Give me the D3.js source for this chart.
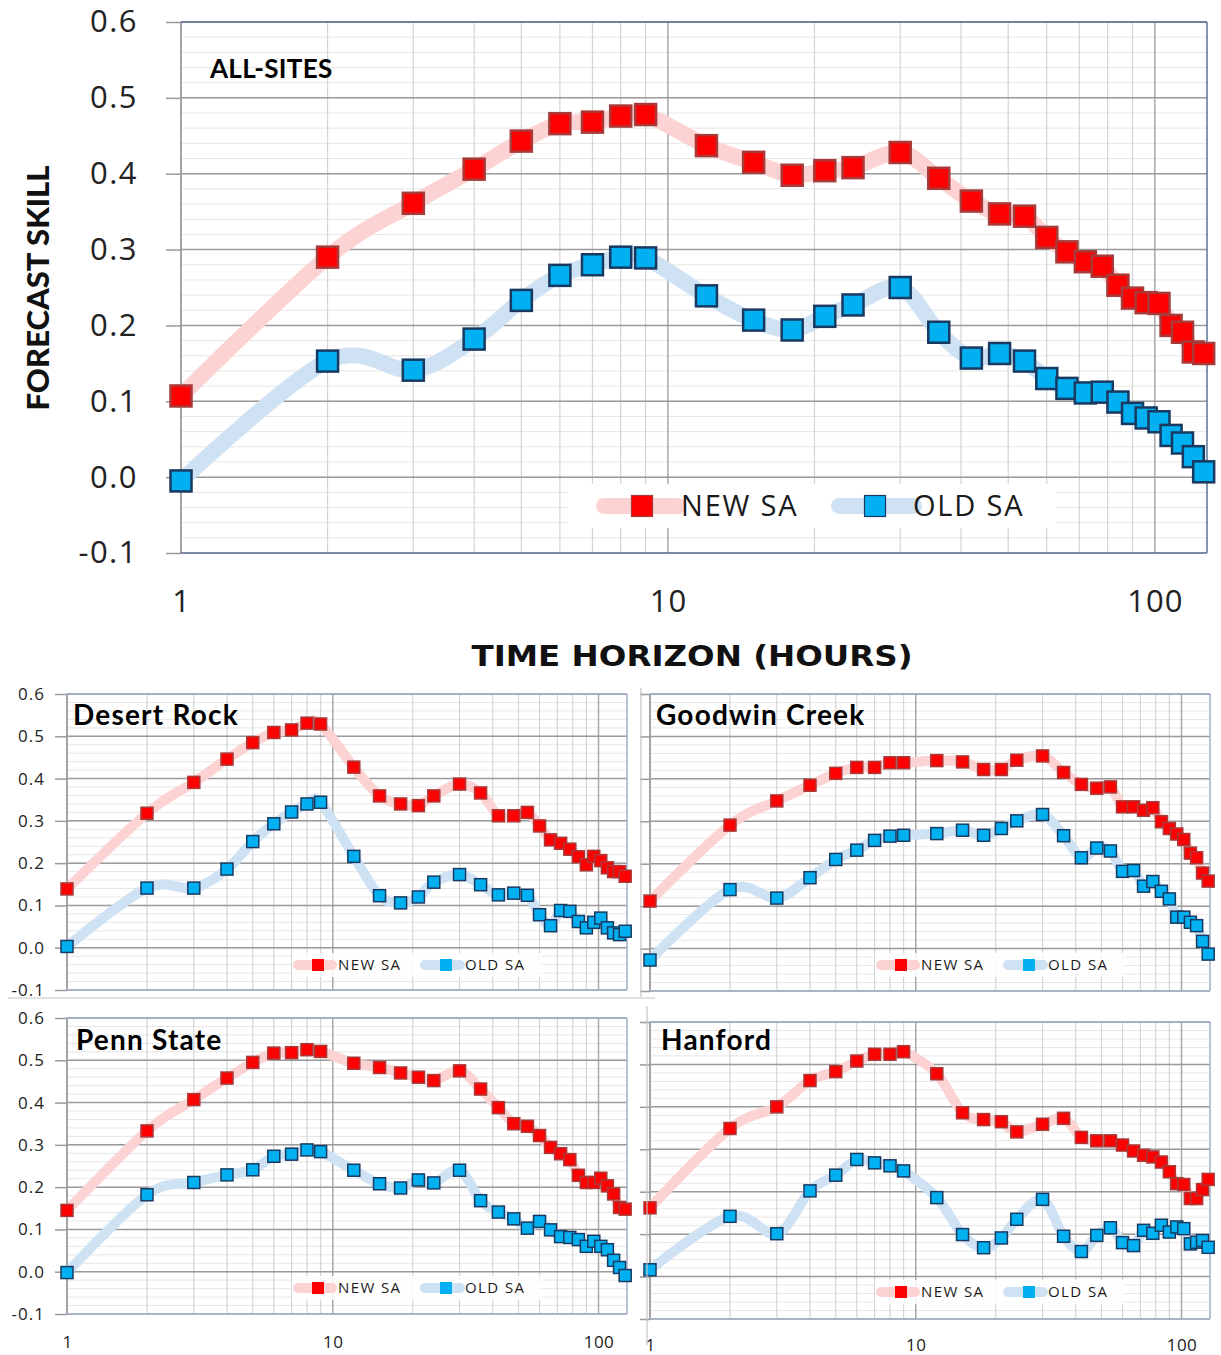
<!DOCTYPE html>
<html>
<head>
<meta charset="utf-8">
<script src="https://cdn.jsdelivr.net/npm/d3@7"></script>
<style>
  body { margin: 0; background: #fff; }
  svg { display: block; }
</style>
</head>
<body>
<div id="chart"></div>
<script>
// ===== FORECAST SKILL vs TIME HORIZON =====

// x values (hours ahead)
const hours = [1, 2, 3, 4, 5, 6, 7, 8, 9, 12, 15, 18, 21, 24, 30, 36, 42, 48, 54, 60,
  66, 72, 78, 84, 90, 96, 102, 108, 114, 120, 126];

const yTickValues = [-0.1, 0.0, 0.1, 0.2, 0.3, 0.4, 0.5, 0.6];
const xTickLabels = [1, 10, 100];
const seriesNames = ['NEW SA', 'OLD SA'];

// ALL-SITES
const allSitesNew = [0.107, 0.290, 0.361, 0.406, 0.443, 0.466, 0.468, 0.476, 0.478,
  0.437, 0.415, 0.398, 0.404, 0.408, 0.428, 0.394, 0.364, 0.347, 0.344, 0.316,
  0.297, 0.284, 0.278, 0.253, 0.236, 0.230, 0.229, 0.200, 0.191, 0.165, 0.163];
const allSitesOld = [-0.005, 0.153, 0.141, 0.182, 0.233, 0.266, 0.280, 0.290, 0.289,
  0.239, 0.207, 0.194, 0.212, 0.227, 0.250, 0.191, 0.157, 0.163, 0.153, 0.130,
  0.117, 0.111, 0.112, 0.099, 0.084, 0.078, 0.073, 0.055, 0.045, 0.027, 0.007];

// Desert Rock
const desertNew = [0.139, 0.318, 0.391, 0.446, 0.485, 0.509, 0.515, 0.531, 0.529,
  0.427, 0.359, 0.340, 0.336, 0.359, 0.387, 0.366, 0.312, 0.312, 0.320, 0.288,
  0.255, 0.247, 0.233, 0.215, 0.196, 0.216, 0.206, 0.189, 0.180, 0.180, 0.169];
const desertOld = [0.003, 0.141, 0.141, 0.186, 0.251, 0.293, 0.321, 0.340, 0.344,
  0.216, 0.123, 0.106, 0.120, 0.155, 0.173, 0.149, 0.125, 0.129, 0.124, 0.078,
  0.052, 0.088, 0.086, 0.062, 0.047, 0.060, 0.070, 0.047, 0.035, 0.031, 0.039];

// Goodwin Creek
const goodwinNew = [0.112, 0.291, 0.348, 0.385, 0.413, 0.427, 0.427, 0.438, 0.438,
  0.443, 0.440, 0.422, 0.422, 0.444, 0.454, 0.415, 0.387, 0.378, 0.381, 0.334,
  0.334, 0.326, 0.332, 0.299, 0.283, 0.270, 0.257, 0.225, 0.214, 0.178, 0.159];
const goodwinOld = [-0.027, 0.139, 0.119, 0.167, 0.210, 0.232, 0.255, 0.265, 0.267,
  0.271, 0.279, 0.267, 0.283, 0.301, 0.316, 0.266, 0.214, 0.237, 0.230, 0.182,
  0.184, 0.147, 0.158, 0.135, 0.117, 0.074, 0.074, 0.062, 0.054, 0.017, -0.013];

// Penn State
const pennNew = [0.145, 0.333, 0.407, 0.458, 0.495, 0.517, 0.518, 0.525, 0.521,
  0.493, 0.483, 0.470, 0.460, 0.452, 0.475, 0.432, 0.388, 0.350, 0.344, 0.322,
  0.294, 0.279, 0.265, 0.228, 0.211, 0.211, 0.221, 0.203, 0.184, 0.152, 0.148];
const pennOld = [-0.002, 0.182, 0.211, 0.229, 0.241, 0.273, 0.278, 0.288, 0.284,
  0.240, 0.208, 0.198, 0.217, 0.210, 0.240, 0.168, 0.141, 0.125, 0.103, 0.119,
  0.099, 0.083, 0.081, 0.076, 0.060, 0.072, 0.060, 0.052, 0.027, 0.010, -0.009];

// Hanford
const hanfordNew = [0.162, 0.349, 0.400, 0.462, 0.483, 0.508, 0.524, 0.524, 0.530,
  0.478, 0.386, 0.370, 0.365, 0.341, 0.359, 0.373, 0.328, 0.320, 0.320, 0.310,
  0.296, 0.286, 0.282, 0.270, 0.247, 0.219, 0.217, 0.184, 0.184, 0.205, 0.229];
const hanfordOld = [0.016, 0.142, 0.101, 0.202, 0.239, 0.276, 0.268, 0.261, 0.249,
  0.186, 0.099, 0.068, 0.091, 0.135, 0.182, 0.095, 0.059, 0.097, 0.115, 0.080,
  0.073, 0.109, 0.102, 0.121, 0.105, 0.117, 0.113, 0.077, 0.081, 0.085, 0.069];

const COLORS = {
  newFill: '#ff0000', newStroke: '#a83a3a', newLine: '#fcd2d2',
  oldFill: '#00b0f0', oldStroke: '#183a62', oldLine: '#cfe2f4'
};
const LABEL_FONT = "'Open Sans', 'Noto Sans', sans-serif";
const TITLE_FONT = "Lato, 'Open Sans', sans-serif";

const W = 1221, H = 1355;
const svg = d3.select('#chart').append('svg').attr('width', W).attr('height', H);
const defs = svg.append('defs');

const fmt = d => d.toFixed(1);   // keep plain hyphen for -0.1

const panels = [
  { key: 'all', title: 'ALL-SITES', newVals: allSitesNew, oldVals: allSitesOld,
    left: 181, right: 1207, top: 22, bottom: 553, big: true,
    titleX: 210, titleY: 78, titleSize: 26, titleSpacing: 0.3,
    yLabels: true, xLabels: true, tickSize: 15, yPad: 28, yFont: 31, xFont: 31, xPad: 37,
    lineW: 16, sq: 21, sqStroke: 2.5,
    legend: { x: 567, y: 484, w: 490, h: 44, cy: 506, font: 29, spacing: 1.8,
      items: [{ l1: 604, l2: 678, sq: 642, tx: 681 }, { l1: 839, l2: 914, sq: 875, tx: 913 }] } },
  { key: 'desert', title: 'Desert Rock', newVals: desertNew, oldVals: desertOld,
    left: 67, right: 627, top: 694, bottom: 990,
    titleX: 73, titleY: 725, titleSize: 28, titleSpacing: 1.2,
    yLabels: true, xLabels: false, tickSize: 12, yPad: 10, yFont: 17,
    lineW: 10, sq: 12, sqStroke: 1.5, legendCy: 965 },
  { key: 'goodwin', title: 'Goodwin Creek', newVals: goodwinNew, oldVals: goodwinOld,
    left: 650, right: 1210, top: 694, bottom: 991,
    titleX: 656, titleY: 725, titleSize: 28, titleSpacing: 1.2,
    yLabels: false, xLabels: false, tickSize: 10,
    lineW: 10, sq: 12, sqStroke: 1.5, legendCy: 965 },
  { key: 'penn', title: 'Penn State', newVals: pennNew, oldVals: pennOld,
    left: 67, right: 627, top: 1018, bottom: 1314,
    titleX: 76, titleY: 1050, titleSize: 28, titleSpacing: 1.2,
    yLabels: true, xLabels: true, tickSize: 12, yPad: 10, yFont: 17, xFont: 17, xPad: 22,
    lineW: 10, sq: 12, sqStroke: 1.5, legendCy: 1288 },
  { key: 'hanford', title: 'Hanford', newVals: hanfordNew, oldVals: hanfordOld,
    left: 650, right: 1210, top: 1022, bottom: 1319,
    titleX: 661, titleY: 1050, titleSize: 28, titleSpacing: 1.2,
    yLabels: false, xLabels: true, tickSize: 10, xFont: 17, xPad: 20,
    lineW: 10, sq: 12, sqStroke: 1.5, legendCy: 1292 }
];

function drawPanel(p) {
  const x = d3.scaleLog().domain([1, 128]).range([p.left, p.right]);
  const y = d3.scaleLinear().domain([-0.1, 0.6]).range([p.bottom, p.top]);
  const g = svg.append('g').attr('class', 'panel-' + p.key);

  defs.append('clipPath').attr('id', 'clip-' + p.key)
    .append('rect')
    .attr('x', p.left).attr('y', p.top)
    .attr('width', p.right - p.left).attr('height', p.bottom - p.top);

  // minor horizontal grid (0.02 steps)
  g.append('g').selectAll('line')
    .data(y.ticks(35))
    .join('line')
    .attr('x1', p.left).attr('x2', p.right)
    .attr('y1', d => y(d)).attr('y2', d => y(d))
    .attr('stroke', '#e6e6e6').attr('stroke-width', 1);

  // vertical grid 1..10, 20..100
  g.append('g').selectAll('line')
    .data(x.ticks())
    .join('line')
    .attr('x1', d => x(d)).attr('x2', d => x(d))
    .attr('y1', p.top).attr('y2', p.bottom)
    .attr('stroke', d => xTickLabels.includes(d) ? '#a8a8a8' : '#d4d4d4')
    .attr('stroke-width', d => xTickLabels.includes(d) ? 1.5 : 1.2);

  // major horizontal grid + y ticks/labels
  const yAxis = d3.axisLeft(y)
    .tickValues(yTickValues)
    .tickFormat(p.yLabels ? fmt : '')
    .tickSize(p.tickSize)
    .tickPadding(p.yPad || 0);
  const ya = g.append('g')
    .attr('transform', `translate(${p.left},0)`)
    .call(yAxis);
  ya.select('.domain').remove();
  ya.selectAll('.tick line').attr('stroke', '#999').attr('stroke-width', 1.5);
  ya.selectAll('.tick text')
    .attr('fill', '#222')
    .style('font-family', LABEL_FONT)
    .style('font-size', (p.yFont || 12) + 'px')
    .style('letter-spacing', p.big ? '1.5px' : '1px');

  g.append('g').selectAll('line')
    .data(yTickValues)
    .join('line')
    .attr('x1', p.left).attr('x2', p.right)
    .attr('y1', d => y(d)).attr('y2', d => y(d))
    .attr('stroke', '#9a9a9a').attr('stroke-width', 1.5);

  // plot frame
  g.append('line').attr('x1', p.left).attr('x2', p.left).attr('y1', p.top).attr('y2', p.bottom)
    .attr('stroke', '#9a9a9a').attr('stroke-width', 1.5);
  g.append('line').attr('x1', p.left).attr('x2', p.right).attr('y1', p.top).attr('y2', p.top)
    .attr('stroke', p.big ? '#5d7395' : '#9fb0c9').attr('stroke-width', 1.5);
  g.append('line').attr('x1', p.right).attr('x2', p.right).attr('y1', p.top).attr('y2', p.bottom)
    .attr('stroke', p.big ? '#5d7395' : '#9fb0c9').attr('stroke-width', 1.5);
  g.append('line').attr('x1', p.left).attr('x2', p.right).attr('y1', p.bottom).attr('y2', p.bottom)
    .attr('stroke', p.big ? '#6d81a3' : '#a9b6cb').attr('stroke-width', 1.5);

  // x tick labels
  if (p.xLabels) {
    const xa = g.append('g')
      .attr('transform', `translate(0,${p.bottom})`)
      .call(d3.axisBottom(x).tickValues(xTickLabels).tickFormat(d3.format('d')).tickSize(0).tickPadding(p.xPad));
    xa.select('.domain').remove();
    xa.selectAll('.tick text')
      .attr('fill', '#222')
      .style('font-family', LABEL_FONT)
      .style('font-size', p.xFont + 'px')
      .style('letter-spacing', p.big ? '1px' : '0.5px');
  }

  // legend background
  const lg = p.legend || {
    x: p.left + 225, y: p.legendCy - 12, w: 250, h: 24, cy: p.legendCy, font: 15, spacing: 1.4,
    items: [
      { l1: p.left + 231, l2: p.left + 265, sq: p.left + 251, tx: p.left + 271 },
      { l1: p.left + 358, l2: p.left + 393, sq: p.left + 379, tx: p.left + 398 }
    ]
  };
  g.append('rect')
    .attr('x', lg.x).attr('y', lg.y).attr('width', lg.w).attr('height', lg.h)
    .attr('fill', '#fff').attr('opacity', p.big ? 1 : 0.85);

  // smoothed lines (Excel-like smoothing)
  const line = d3.line()
    .x((d, i) => x(hours[i]))
    .y(d => y(d))
    .curve(d3.curveCardinal.tension(0));

  const series = [
    { vals: p.newVals, fill: COLORS.newFill, stroke: COLORS.newStroke, light: COLORS.newLine },
    { vals: p.oldVals, fill: COLORS.oldFill, stroke: COLORS.oldStroke, light: COLORS.oldLine }
  ];

  const plot = g.append('g').attr('clip-path', `url(#clip-${p.key})`);
  series.forEach(s => {
    plot.append('path')
      .datum(s.vals)
      .attr('d', line)
      .attr('fill', 'none')
      .attr('stroke', s.light)
      .attr('stroke-width', p.lineW)
      .attr('stroke-linejoin', 'round');
  });

  const marks = g.append('g');
  series.forEach(s => {
    marks.append('g').selectAll('rect')
      .data(s.vals)
      .join('rect')
      .attr('x', (d, i) => x(hours[i]) - p.sq / 2)
      .attr('y', d => y(d) - p.sq / 2)
      .attr('width', p.sq).attr('height', p.sq)
      .attr('fill', s.fill)
      .attr('stroke', s.stroke)
      .attr('stroke-width', p.sqStroke);
  });

  // legend entries
  lg.items.forEach((it, i) => {
    const s = series[i];
    g.append('line')
      .attr('x1', it.l1).attr('x2', it.l2).attr('y1', lg.cy).attr('y2', lg.cy)
      .attr('stroke', s.light).attr('stroke-width', p.lineW).attr('stroke-linecap', 'round');
    g.append('rect')
      .attr('x', it.sq - p.sq / 2).attr('y', lg.cy - p.sq / 2)
      .attr('width', p.sq).attr('height', p.sq)
      .attr('fill', s.fill)
      .attr('stroke', p.big ? s.stroke : 'none')
      .attr('stroke-width', 1.2);
    g.append('text')
      .attr('x', it.tx).attr('y', lg.cy)
      .attr('dy', '0.36em')
      .attr('font-family', LABEL_FONT)
      .attr('font-size', lg.font)
      .attr('letter-spacing', lg.spacing)
      .attr('fill', '#1a1a1a')
      .text(seriesNames[i]);
  });

  // panel title
  g.append('text')
    .attr('x', p.titleX).attr('y', p.titleY)
    .attr('font-family', TITLE_FONT)
    .attr('font-weight', 700)
    .attr('font-size', p.titleSize)
    .attr('letter-spacing', p.titleSpacing)
    .attr('fill', '#000')
    .text(p.title);
}

panels.forEach(drawPanel);

// axis titles for the big chart
svg.append('text')
  .attr('transform', 'translate(49,288) rotate(-90)')
  .attr('text-anchor', 'middle')
  .attr('font-family', TITLE_FONT)
  .attr('font-weight', 900)
  .attr('font-size', 31)
  .attr('textLength', 245)
  .attr('lengthAdjust', 'spacingAndGlyphs')
  .attr('fill', '#111')
  .text('FORECAST SKILL');

svg.append('text')
  .attr('x', 692).attr('y', 666)
  .attr('text-anchor', 'middle')
  .attr('font-family', "'DejaVu Sans', sans-serif")
  .attr('font-weight', 700)
  .attr('font-size', 28)
  .attr('textLength', 441)
  .attr('lengthAdjust', 'spacingAndGlyphs')
  .attr('fill', '#111')
  .text('TIME HORIZON (HOURS)');

// thin frame lines left over between the small panels
const seps = svg.append('g').attr('stroke', '#c4c4c4').attr('stroke-width', 1.2);
seps.append('line').attr('x1', 8).attr('x2', 655).attr('y1', 998).attr('y2', 998);
seps.append('line').attr('x1', 641).attr('x2', 641).attr('y1', 688).attr('y2', 997);
seps.append('line').attr('x1', 647).attr('x2', 647).attr('y1', 1006).attr('y2', 1345);
</script>
</body>
</html>
